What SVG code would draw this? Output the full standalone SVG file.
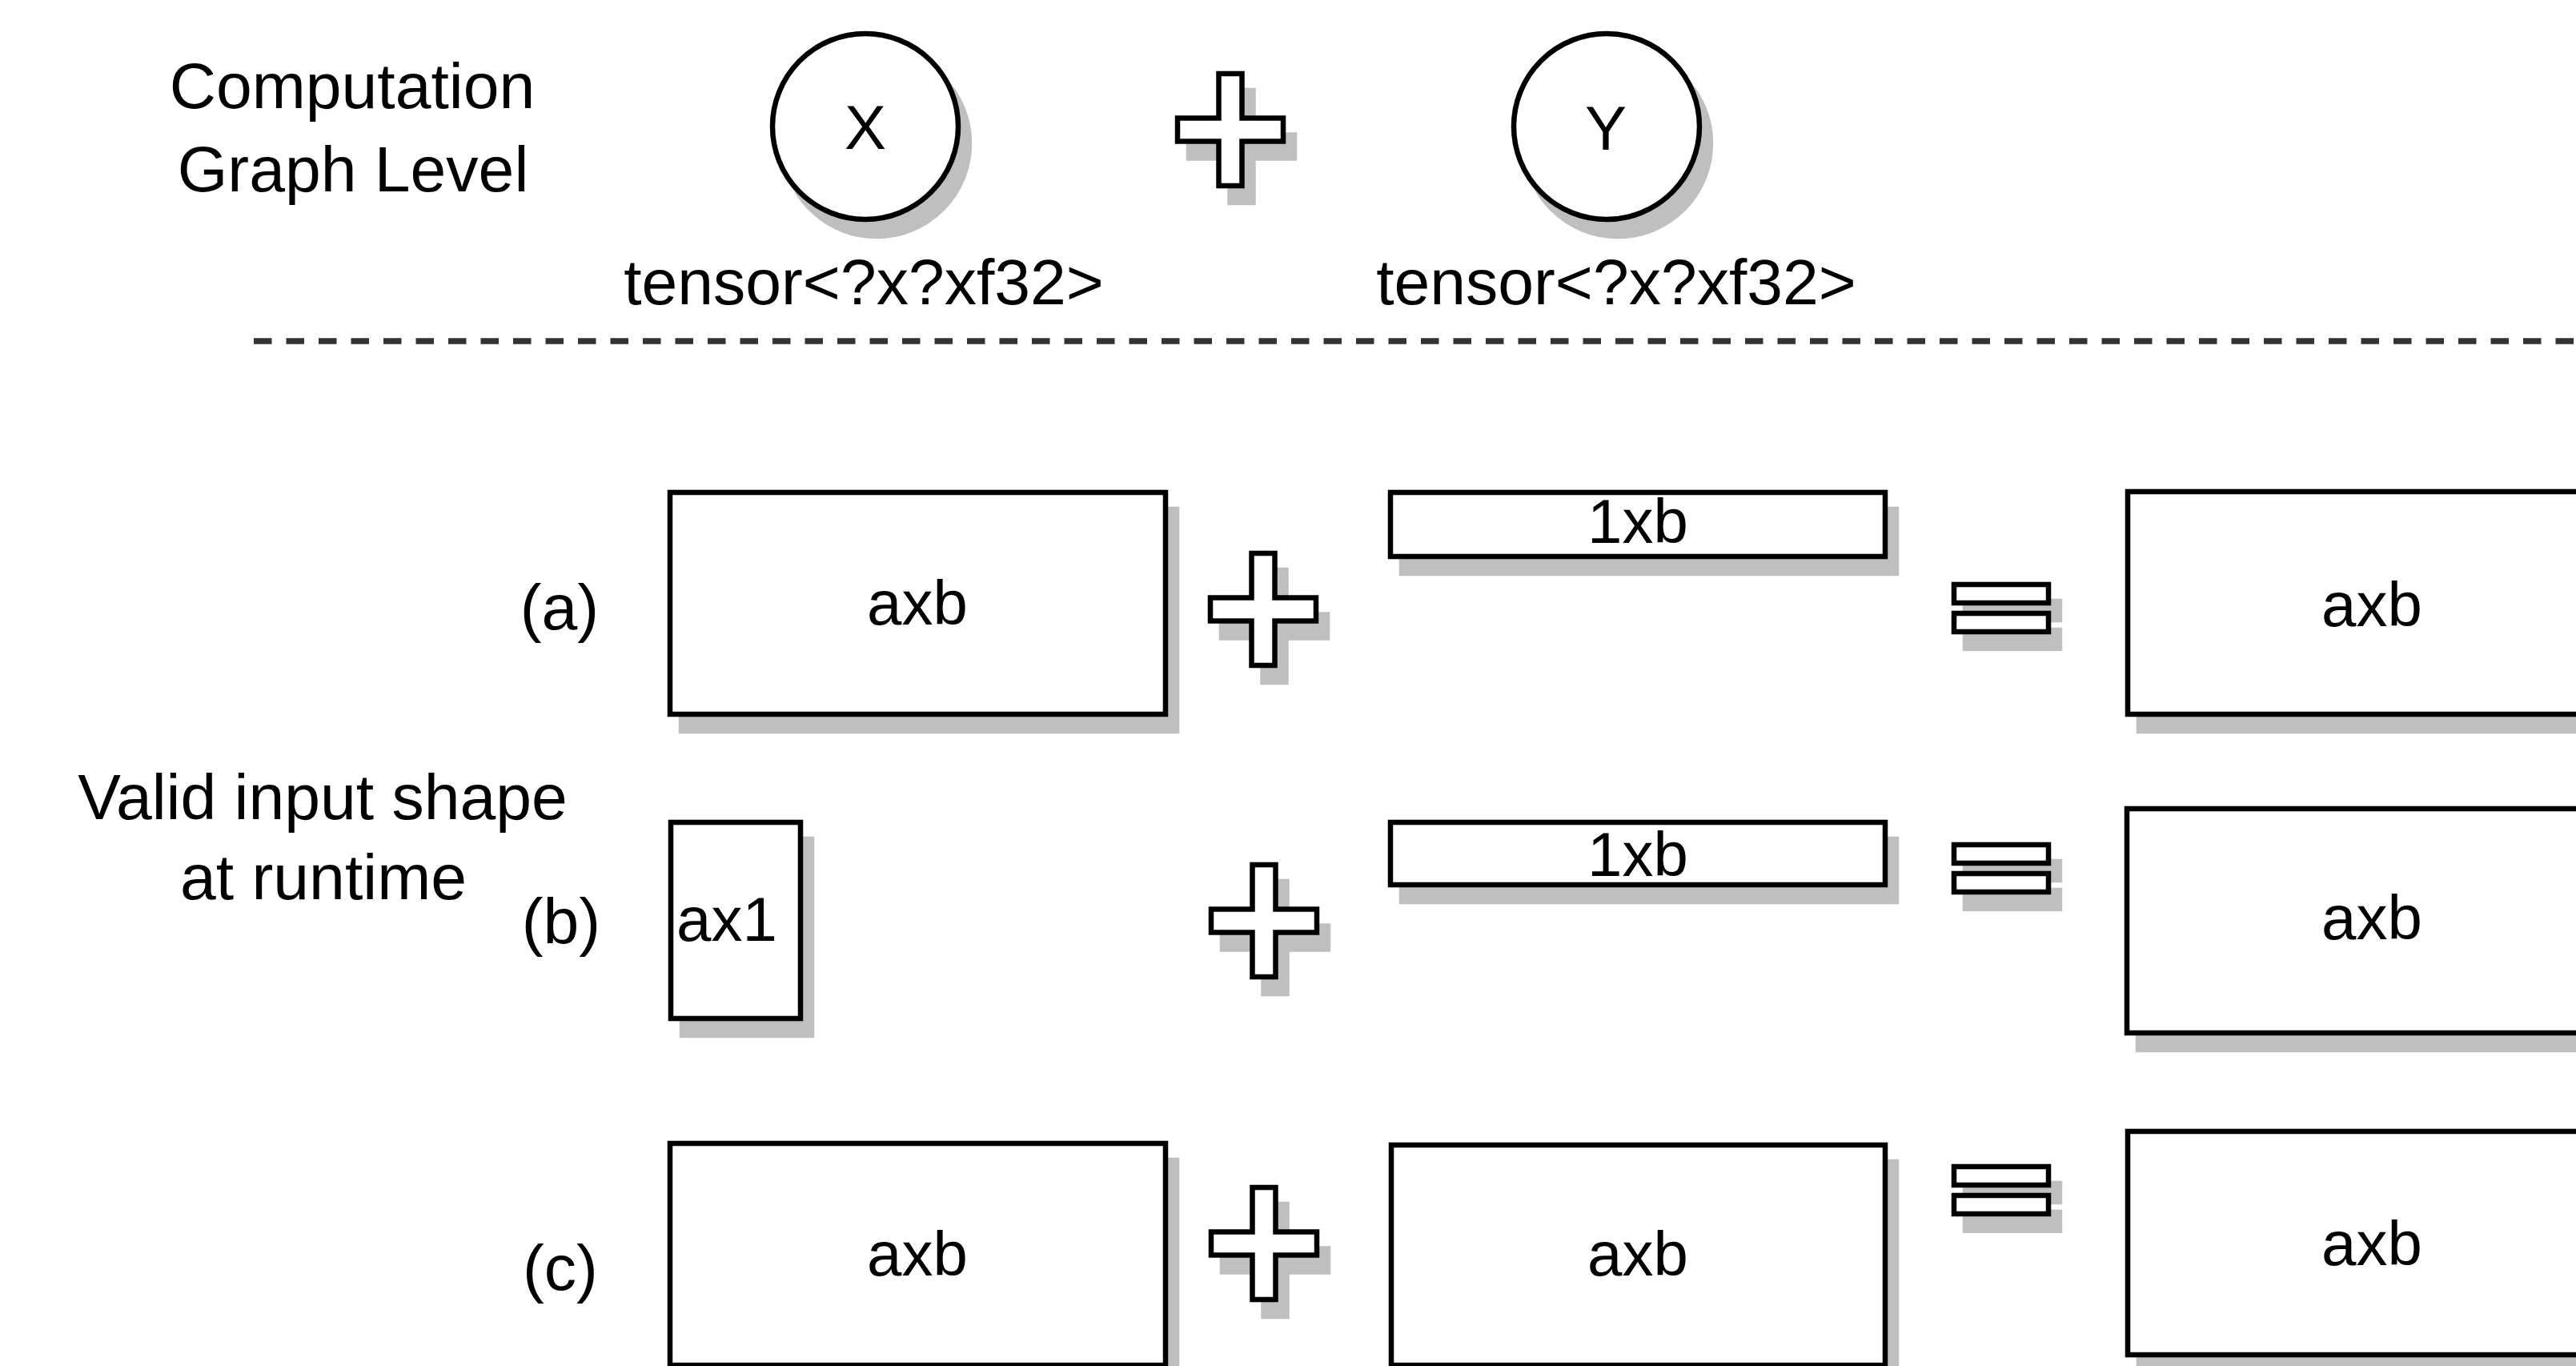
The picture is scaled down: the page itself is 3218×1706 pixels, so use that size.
<svg xmlns="http://www.w3.org/2000/svg" xmlns:xlink="http://www.w3.org/1999/xlink" width="3218" height="1706" viewBox="0 0 3218 1706">
  <style>
    text { font-family: "Liberation Sans", Arial, Helvetica, sans-serif; font-size: 78px; fill: #000; }
    .big { font-size: 80.5px; }
    .mid { text-anchor: middle; }
    .shape { fill: #fff; stroke: #000; stroke-width: 6.5; filter: url(#shadow); }
    .sep { fill: none; stroke: #333; stroke-width: 7.5; stroke-dasharray: 22.5 18; }
  </style>
  <defs>
    <!-- drop shadow: grey copy shifted down-right -->
    <filter id="shadow" x="-20%" y="-20%" width="150%" height="160%">
      <feOffset in="SourceAlpha" dx="14" dy="21" result="off"/>
      <feFlood flood-color="#000" flood-opacity="0.25"/>
      <feComposite in2="off" operator="in" result="sh"/>
      <feMerge>
        <feMergeNode in="sh"/>
        <feMergeNode in="SourceGraphic"/>
      </feMerge>
    </filter>
    <!-- plus operator, centred on origin -->
    <path id="plus" d="M-14.5,-70 H14.5 V-14.5 H66 V14.5 H14.5 V70 H-14.5 V14.5 H-66 V-14.5 H-14.5 Z"/>
    <!-- equals operator, top-left at origin -->
    <path id="equals" d="M0,0 H118 V23 H0 Z M0,36 H118 V59 H0 Z"/>
  </defs>

  <rect width="3218" height="1706" fill="#fff"/>

  <!-- side labels -->
  <g id="label-graph-level">
    <text class="mid big" x="440" y="135">Computation</text>
    <text class="mid big" x="441" y="239">Graph Level</text>
  </g>
  <g id="label-runtime">
    <text class="mid big" x="403" y="1023">Valid input shape</text>
    <text class="mid big" x="404" y="1123">at runtime</text>
  </g>

  <!-- computation graph level -->
  <g id="node-x">
    <circle class="shape" cx="1081" cy="158" r="116"/>
    <text class="mid" x="1081" y="186">X</text>
    <text class="mid big" x="1079" y="380">tensor&lt;?x?xf32&gt;</text>
  </g>
  <g id="op-plus-top">
    <use xlink:href="#plus" class="shape" transform="translate(1537,162)"/>
  </g>
  <g id="node-y">
    <circle class="shape" cx="2007" cy="158" r="116"/>
    <text class="mid" x="2006" y="187">Y</text>
    <text class="mid big" x="2019" y="380">tensor&lt;?x?xf32&gt;</text>
  </g>

  <!-- separator between levels -->
  <g id="connectors">
    <line class="sep" x1="317" y1="426" x2="3218" y2="426"/>
  </g>

  <!-- case (a) -->
  <g id="row-a">
    <text class="mid big" x="699" y="786">(a)</text>
    <g id="a-lhs">
      <rect class="shape" x="837" y="615" width="619" height="277"/>
      <text class="mid" x="1146" y="780">axb</text>
    </g>
    <use id="a-plus" xlink:href="#plus" class="shape" transform="translate(1578,761)"/>
    <g id="a-rhs">
      <rect class="shape" x="1737" y="615" width="618" height="80"/>
      <text class="mid" x="2046" y="678">1xb</text>
    </g>
    <use id="a-eq" xlink:href="#equals" class="shape" transform="translate(2441,730)"/>
    <g id="a-result">
      <rect class="shape" x="2658" y="614" width="619" height="278"/>
      <text class="mid" x="2963" y="782">axb</text>
    </g>
  </g>

  <!-- case (b) -->
  <g id="row-b">
    <text class="mid big" x="701" y="1178">(b)</text>
    <g id="b-lhs">
      <rect class="shape" x="838" y="1027" width="162" height="245"/>
      <text x="845" y="1175">ax1</text>
    </g>
    <use id="b-plus" xlink:href="#plus" class="shape" transform="translate(1579,1150)"/>
    <g id="b-rhs">
      <rect class="shape" x="1737" y="1027" width="618" height="78"/>
      <text class="mid" x="2046" y="1094">1xb</text>
    </g>
    <use id="b-eq" xlink:href="#equals" class="shape" transform="translate(2441,1055)"/>
    <g id="b-result">
      <rect class="shape" x="2657" y="1010" width="619" height="280"/>
      <text class="mid" x="2963" y="1173">axb</text>
    </g>
  </g>

  <!-- case (c) -->
  <g id="row-c">
    <text class="mid big" x="700" y="1611">(c)</text>
    <g id="c-lhs">
      <rect class="shape" x="837" y="1428" width="619" height="277"/>
      <text class="mid" x="1146" y="1593">axb</text>
    </g>
    <use id="c-plus" xlink:href="#plus" class="shape" transform="translate(1579,1553)"/>
    <g id="c-rhs">
      <rect class="shape" x="1738" y="1430" width="617" height="275"/>
      <text class="mid" x="2046" y="1593">axb</text>
    </g>
    <use id="c-eq" xlink:href="#equals" class="shape" transform="translate(2441,1457)"/>
    <g id="c-result">
      <rect class="shape" x="2658" y="1413" width="619" height="279"/>
      <text class="mid" x="2963" y="1580">axb</text>
    </g>
  </g>
</svg>
